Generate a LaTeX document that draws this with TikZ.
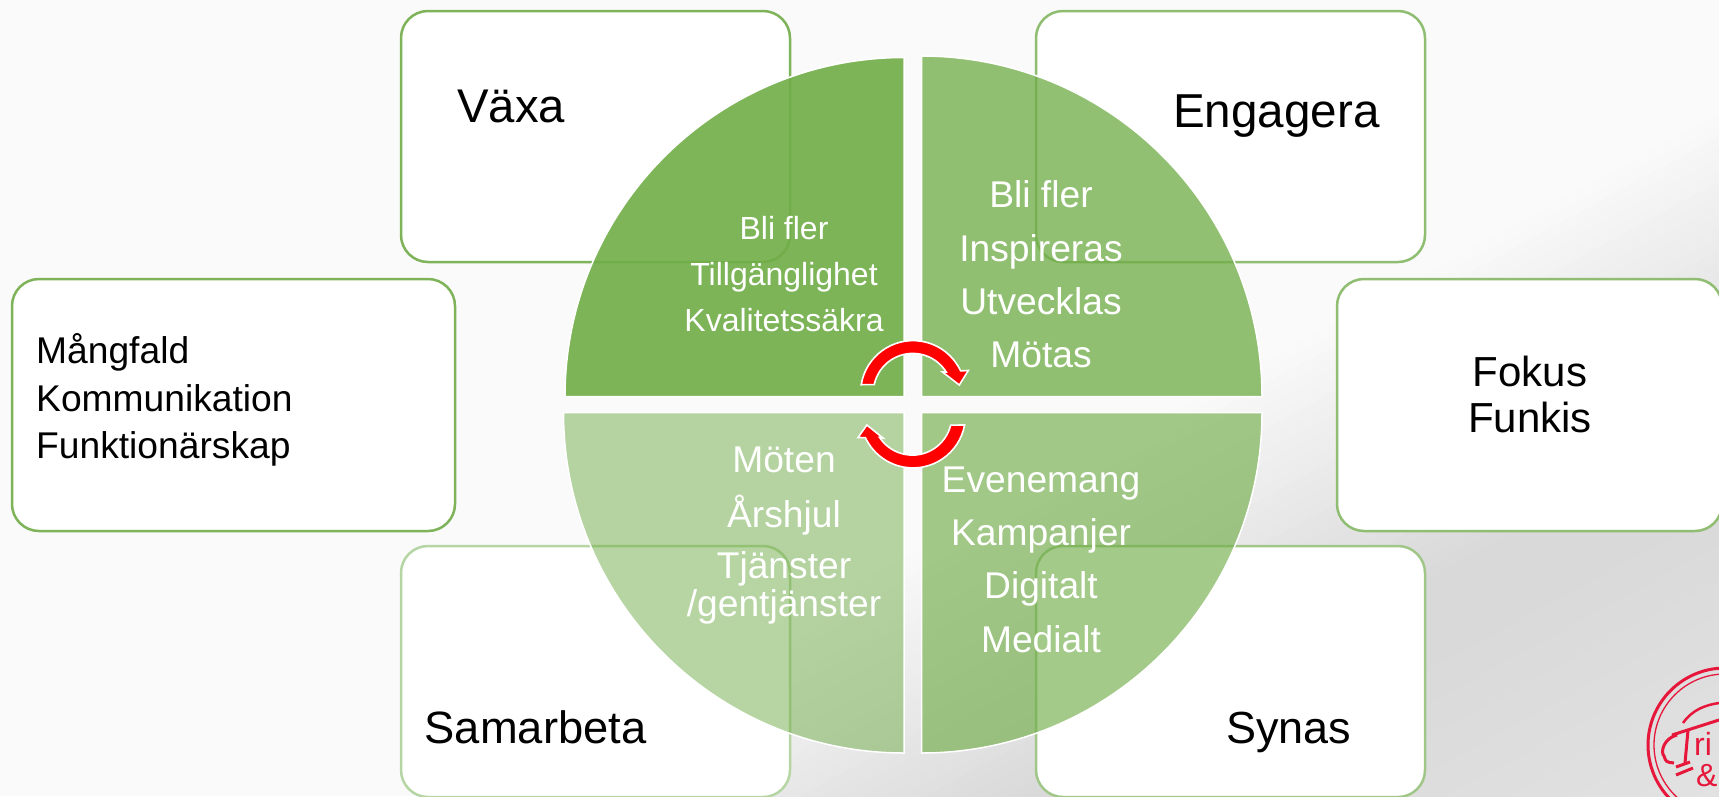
\documentclass[tikz,border=0pt]{standalone}
\usepackage{fontspec}
\setmainfont{Liberation Sans}
\newcommand{\fs}[1]{\fontsize{#1}{#1}\selectfont}
\definecolor{quad}{HTML}{70AD47}
\definecolor{linea}{HTML}{7FB35A}
\definecolor{lineb}{HTML}{8FBD71}
\definecolor{linec}{HTML}{B5D6A3}
\definecolor{lined}{HTML}{A0C788}
\definecolor{logored}{HTML}{E6173A}
\tikzset{
  card/.style={line width=2.5pt,rounded corners=27pt,fill=white},
  quadrant/.style={fill=quad,draw=white,line width=1.5pt,line join=miter},
  turn/.style={fill=red,draw=white,line width=1.6pt,line join=miter},
  dark/.style={anchor=base west,text=black,inner sep=0pt},
  lightc/.style={anchor=base,text=white,inner sep=0pt},
  stroke/.style={draw=logored,line cap=butt}
}
\begin{document}
\begin{tikzpicture}[x=1pt,y=-1pt]
\useasboundingbox (0,0) rectangle (1719,796);
\begin{scope}
\clip (0,0) rectangle (1719,796);
\definecolor{bgzero}{gray}{0.98}
\fill[bgzero] (0,0) rectangle (1719,796);
% diagonal background gradient, as overlapping half planes
\foreach \t in {915,925,...,1525}{
  \pgfmathsetmacro{\g}{(\t<1190 ? 250-(\t-915)*0.12 : (\t<1260 ? 217 : 217+(\t-1260)*0.034))/255}
  \definecolor{bgstep}{gray}{\g}
  \pgfmathsetmacro{\ya}{(\t+48)/0.88}
  \pgfmathsetmacro{\yb}{(\t-912)/0.88}
  \fill[bgstep] (-100,\ya) -- (1900,\yb) -- (1900,1200) -- (-100,1200) -- cycle;
}
% cards
\draw[card,draw=linea] (401,11) rectangle (790,262);
\draw[card,draw=lineb] (1036,11) rectangle (1425,262);
\draw[card,draw=linea] (12,279) rectangle (455,531);
\draw[card,draw=lineb] (1337,279) rectangle (1722,531);
\draw[card,draw=linec] (401,546) rectangle (790,797);
\draw[card,draw=lined] (1036,546) rectangle (1425,797);
% quadrants
\path[quadrant,fill opacity=.9]  (904,396.5) -- (565,396.5) arc[start angle=180,end angle=270,radius=339] -- cycle;
\path[quadrant,fill opacity=.755] (921.5,396.5) -- (921.5,56) arc[start angle=270,end angle=360,radius=340.5] -- cycle;
\path[quadrant,fill opacity=.5]  (904,412.5) -- (904,753) arc[start angle=90,end angle=180,radius=340.5] -- cycle;
\path[quadrant,fill opacity=.64] (921.5,412.5) -- (1262,412.5) arc[start angle=0,end angle=90,radius=340.5] -- cycle;
% turning arrows
\path[turn] (861.2,384.7) arc[start angle=189.2,end angle=335,radius=52.5]
  -- (968.3,370.5) -- (959.3,385) -- (942.5,372) -- (946.2,372)
  arc[start angle=328.1,end angle=192.1,radius=39.4] -- cycle;
\path[turn] (964.6,425) arc[start angle=10.5,end angle=155,radius=52.5]
  -- (858,437.5) -- (866.9,425) -- (883,438) -- (879.6,437.5)
  arc[start angle=146.4,end angle=13.8,radius=39.4] -- cycle;
% logo
\draw[logored,line width=3pt] (1725,745) circle[radius=77];
\draw[logored,line width=1.3pt] (1725,745) circle[radius=71];
\draw[stroke,line width=2.5pt] (1683,723) .. controls (1692,710) and (1705,705) .. (1719,703);
\draw[stroke,line width=3pt] (1719,720) -- (1672,735);
\draw[stroke,line width=3pt] (1677,735) .. controls (1664,738) and (1660,752) .. (1664,756) .. controls (1666,762) .. (1674,763);
\draw[stroke,line width=3pt] (1676,767) -- (1690,762);
\draw[stroke,line width=3pt] (1688,730) -- (1685,763);
\draw[stroke,line width=3pt] (1676,775) -- (1693,768);
\node (logotext) [anchor=base west,inner sep=0pt,text=logored] at (1694,755) {\fs{32}ri};
\node (logoamp) [anchor=base west,inner sep=0pt,text=logored] at (1696,786) {\fs{32}\&};
\end{scope}
% card labels
\node (vaxa) [dark] at (457,122) {\fs{47.3}Växa};
\node (engagera) [dark] at (1173,127) {\fs{47.6}Engagera};
\node (samarbeta) [dark] at (424.5,743) {\fs{45.3}Samarbeta};
\node (synas) [dark] at (1226,743) {\fs{45}Synas};
\node (mang) [dark] at (36,363) {\fs{37.2}Mångfald};
\node (komm) [dark] at (36,411) {\fs{37.2}Kommunikation};
\node (funk) [dark] at (36,458) {\fs{37.2}Funktionärskap};
\node (fokus) [anchor=base,inner sep=0pt] at (1530,386) {\fs{42}Fokus};
\node (funkis) [anchor=base,inner sep=0pt] at (1530,432) {\fs{42}Funkis};
% quadrant labels
\node (tla) [lightc] at (784,239) {\fs{32}Bli fler};
\node (tlb) [lightc] at (784,285) {\fs{32}Tillgänglighet};
\node (tlc) [lightc] at (784,331) {\fs{32}Kvalitetssäkra};
\node (tra) [lightc] at (1041,207) {\fs{37.2}Bli fler};
\node (trb) [lightc] at (1041,261) {\fs{37.2}Inspireras};
\node (trc) [lightc] at (1041,314) {\fs{37.2}Utvecklas};
\node (trd) [lightc] at (1041,367) {\fs{37.2}Mötas};
\node (bla) [lightc] at (784,472) {\fs{37.2}Möten};
\node (blb) [lightc] at (784,527) {\fs{37.2}Årshjul};
\node (blc) [lightc] at (784,578) {\fs{37.2}Tjänster};
\node (bld) [lightc] at (784,616) {\fs{37.2}/gentjänster};
\node (bra) [lightc] at (1041,492) {\fs{37.2}Evenemang};
\node (brb) [lightc] at (1041,545) {\fs{37.2}Kampanjer};
\node (brc) [lightc] at (1041,598) {\fs{37.2}Digitalt};
\node (brd) [lightc] at (1041,652) {\fs{37.2}Medialt};
\end{tikzpicture}
\end{document}
